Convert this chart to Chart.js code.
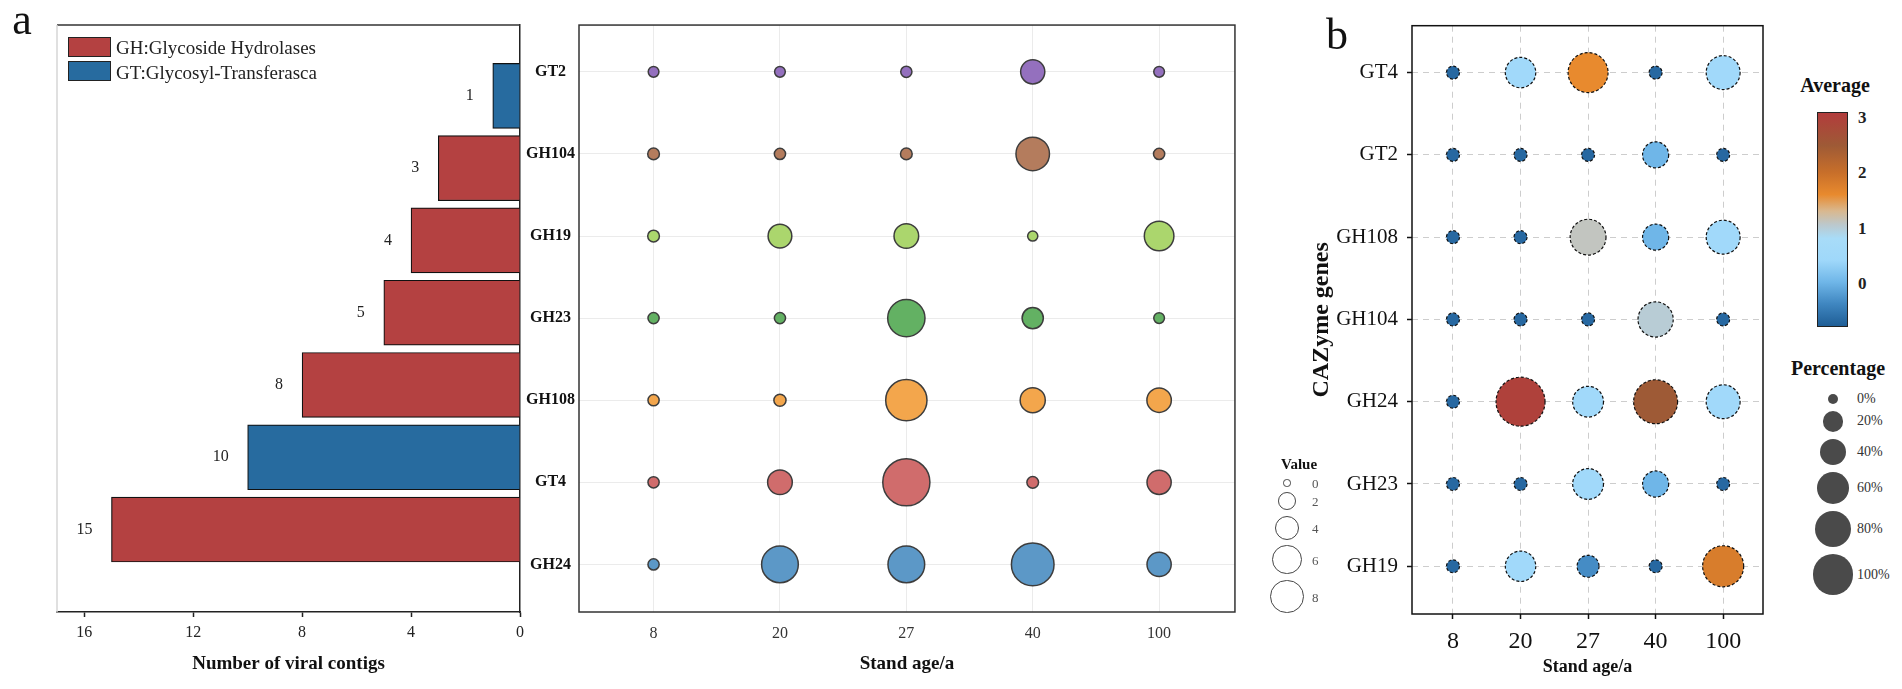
<!DOCTYPE html>
<html>
<head>
<meta charset="utf-8">
<script src="https://cdn.jsdelivr.net/npm/chart.js@4.4.0/dist/chart.umd.min.js"></script>
<style>
  body { margin: 0; width: 1902px; height: 689px; background: #fff; position: relative; overflow: hidden; font-family: 'Liberation Serif', serif; }
  canvas { position: absolute; top: 0; }
  .t { position: absolute; white-space: nowrap; line-height: 1; color: #222; }
  .c { position: absolute; border-radius: 50%; box-sizing: border-box; }
</style>
</head>
<body>
<canvas id="bar" width="540" height="689" style="left:0"></canvas>
<canvas id="bubA" width="760" height="689" style="left:500px"></canvas>
<canvas id="bubB" width="500" height="689" style="left:1290px"></canvas>
<div id="deco"></div>
<script>
// ---- panel a: bar chart ----
const barGenes = ['GT2', 'GH104', 'GH19', 'GH23', 'GH108', 'GT4', 'GH24'];
const barCounts = [1, 3, 4, 5, 8, 10, 15];
const barFamily = ['GT', 'GH', 'GH', 'GH', 'GH', 'GT', 'GH'];
const barTicks = [0, 4, 8, 12, 16];

// ---- panel a: bubble values (columns = stand age) ----
const ages = ['8', '20', '27', '40', '100'];
const valGT2   = [0.1, 0.1, 0.15, 2.2, 0.1];
const valGH104 = [0.2, 0.15, 0.2, 4.6, 0.15];
const valGH19  = [0.2, 2.1, 2.3, 0.05, 3.5];
const valGH23  = [0.15, 0.15, 5.8, 1.6, 0.1];
const valGH108 = [0.15, 0.25, 7.2, 2.4, 2.25];
const valGT4   = [0.15, 2.3, 9.5, 0.2, 2.2];
const valGH24  = [0.15, 5.6, 5.6, 7.7, 2.2];
const valueLegend = [0, 2, 4, 6, 8];

// ---- panel b: percentage (size) and average (colour) ----
const genesB = ['GT4', 'GT2', 'GH108', 'GH104', 'GH24', 'GH23', 'GH19'];
const pctGT4   = [0, 34, 64, 0, 44];
const pctGT2   = [0, 0, 0, 23, 0];
const pctGH108 = [0, 0, 50, 23, 44];
const pctGH104 = [0, 0, 0, 48, 0];
const pctGH24  = [0, 100, 35, 79, 44];
const pctGH23  = [0, 0, 35, 23, 0];
const pctGH19  = [0, 34, 14, 0, 68];
const avgGT4   = [-0.7, 0.5, 1.6, -0.7, 0.5];
const avgGT2   = [-0.7, -0.7, -0.7, 0, -0.7];
const avgGH108 = [-0.7, -0.7, 1.1, 0, 0.5];
const avgGH104 = [-0.7, -0.7, -0.7, 1.0, -0.7];
const avgGH24  = [-0.7, 3.0, 0.5, 2.5, 0.5];
const avgGH23  = [-0.7, -0.7, 0.5, 0, -0.7];
const avgGH19  = [-0.7, 0.5, -0.35, -0.7, 1.8];
const pctLegend = [0, 20, 40, 60, 80, 100];
const avgTicks = [3, 2, 1, 0];

const FONT = 'Liberation Serif';
Chart.defaults.font.family = FONT;
Chart.defaults.color = '#222';
Chart.defaults.animation = false;
Chart.defaults.events = [];
Chart.defaults.plugins.legend.display = false;
Chart.defaults.plugins.tooltip.enabled = false;

const famColor = { GH: '#b44141', GT: '#276b9f' };
const famLabel = { GH: 'GH:Glycoside Hydrolases', GT: 'GT:Glycosyl-Transferasca' };
const rowColorsA = ['#9470be', '#b47c5d', '#abd66d', '#63b163', '#f3a64c', '#d06c6c', '#5c98c7'];

const sizeA = v => Math.sqrt(23 + 56 * v);
const sizeB = p => Math.sqrt(42 + 5.58 * p);

// colour scale for "Average"
const avgStops = [-0.8, -0.4, 0, 0.4, 0.8, 1.05, 1.3, 1.6, 2.0, 2.5, 3.09];
const avgColors = ['#1f5e96', '#3f86c0', '#6fb6e8', '#9fd8fa', '#a8dcf8', '#bcc8cc', '#d9b88f', '#e88a2e', '#c86f2a', '#9e5a36', '#b23c3c'];
function hexRgb(h) { return [1, 3, 5].map(i => parseInt(h.substr(i, 2), 16)); }
function avgColor(a) {
    if (a <= avgStops[0]) return avgColors[0];
    for (let i = 1; i < avgStops.length; i++) {
        if (a <= avgStops[i]) {
            const t = (a - avgStops[i - 1]) / (avgStops[i] - avgStops[i - 1]);
            const c0 = hexRgb(avgColors[i - 1]), c1 = hexRgb(avgColors[i]);
            return `rgb(${c0.map((c, k) => Math.round(c + t * (c1[k] - c)))})`;
        }
    }
    return avgColors[avgColors.length - 1];
}

const frame = color => ({
    id: 'frame',
    afterDraw(chart) {
        const { ctx, chartArea: a } = chart;
        ctx.save();
        ctx.strokeStyle = color;
        ctx.lineWidth = 1.5;
        ctx.strokeRect(a.left, a.top, a.right - a.left, a.bottom - a.top);
        ctx.restore();
    }
});

// --- bar chart ---
const barExtras = {
    id: 'barExtras',
    afterDatasetsDraw(chart) {
        const { ctx, chartArea: a } = chart;
        ctx.save();
        ctx.lineWidth = 1.5;
        ctx.strokeStyle = '#333';
        ctx.beginPath(); ctx.moveTo(a.left, a.top); ctx.lineTo(a.right, a.top); ctx.stroke();
        ctx.strokeStyle = '#d6d6d6';
        ctx.beginPath(); ctx.moveTo(a.left, a.top); ctx.lineTo(a.left, a.bottom); ctx.stroke();
        ctx.font = `16px ${FONT}`;
        ctx.fillStyle = '#222';
        ctx.textAlign = 'right';
        ctx.textBaseline = 'middle';
        chart.getDatasetMeta(0).data.forEach((bar, i) => ctx.fillText(String(barCounts[i]), bar.x - 19, bar.y));
        ctx.restore();
    }
};

new Chart(document.getElementById('bar'), {
    type: 'bar',
    data: {
        datasets: [{
            data: barCounts.map((v, i) => ({ x: v, y: i })),
            backgroundColor: barFamily.map(f => famColor[f]),
            borderColor: '#111',
            borderWidth: 1.2,
            barThickness: 65
        }]
    },
    options: {
        indexAxis: 'y',
        responsive: false,
        layout: { padding: { left: 57, right: 20, top: 25, bottom: 0 } },
        scales: {
            x: {
                type: 'linear', reverse: true, min: 0, max: 17, position: 'bottom',
                afterFit: s => { s.height = 77; },
                afterBuildTicks: s => { s.ticks = barTicks.map(v => ({ value: v })); },
                ticks: { padding: 6, font: { size: 16 }, color: '#222' },
                grid: { drawOnChartArea: false, drawTicks: true, tickLength: 5, tickColor: '#222', tickWidth: 1.5 },
                border: { color: '#222', width: 1.5 },
                title: { display: true, text: 'Number of viral contigs', color: '#111', font: { size: 19, weight: 'bold' }, padding: { top: 0, bottom: 14 } }
            },
            y: {
                type: 'linear', reverse: true, min: -0.53, max: 6.69, position: 'right',
                afterFit: s => { s.width = 0; },
                ticks: { display: false },
                grid: { display: false },
                border: { color: '#222', width: 1.5 }
            }
        }
    },
    plugins: [barExtras]
});

// --- bubble chart a ---
const valuesA = [valGT2, valGH104, valGH19, valGH23, valGH108, valGT4, valGH24];
new Chart(document.getElementById('bubA'), {
    type: 'bubble',
    data: {
        datasets: barGenes.map((g, r) => ({
            label: g,
            data: valuesA[r].map((v, c) => ({ x: c, y: r, v })),
            backgroundColor: rowColorsA[r],
            borderColor: '#3d3d3d',
            borderWidth: 1.5,
            radius: ctx => (ctx.raw ? sizeA(ctx.raw.v) : 3)
        }))
    },
    options: {
        responsive: false,
        layout: { padding: { left: 0, right: 22, top: 24, bottom: 0 } },
        scales: {
            x: {
                type: 'linear', min: -0.59, max: 4.6,
                afterFit: s => { s.height = 77; },
                afterBuildTicks: s => { s.ticks = ages.map((_, i) => ({ value: i })); },
                ticks: { callback: v => ages[v], autoSkip: false, padding: 12, font: { size: 16 }, color: '#333' },
                grid: { color: '#ebebeb', drawTicks: false },
                border: { display: false },
                title: { display: true, text: 'Stand age/a', color: '#111', font: { size: 19, weight: 'bold' }, padding: { top: 0, bottom: 14 } }
            },
            y: {
                type: 'linear', reverse: true, min: -0.57, max: 6.58,
                afterFit: s => { s.width = 79; },
                afterBuildTicks: s => { s.ticks = barGenes.map((_, i) => ({ value: i })); },
                ticks: { callback: v => barGenes[v], autoSkip: false, crossAlign: 'center', padding: 4, font: { size: 16, weight: 'bold' }, color: '#111' },
                grid: { color: '#ebebeb', drawTicks: false },
                border: { display: false }
            }
        }
    },
    plugins: [frame('#333')]
});

// --- bubble chart b ---
const pctB = [pctGT4, pctGT2, pctGH108, pctGH104, pctGH24, pctGH23, pctGH19];
const avgB = [avgGT4, avgGT2, avgGH108, avgGH104, avgGH24, avgGH23, avgGH19];
const dashedBorder = {
    id: 'dashedBorder',
    beforeDatasetsDraw(chart) { chart.ctx.setLineDash([3, 2]); },
    afterDatasetsDraw(chart) { chart.ctx.setLineDash([]); }
};
new Chart(document.getElementById('bubB'), {
    type: 'bubble',
    data: {
        datasets: [{
            data: pctB.flatMap((row, r) => row.map((p, c) => ({ x: c, y: r, p, a: avgB[r][c] }))),
            backgroundColor: ctx => (ctx.raw ? avgColor(ctx.raw.a) : '#888'),
            borderColor: '#111',
            borderWidth: 1.2,
            radius: ctx => (ctx.raw ? sizeB(ctx.raw.p) : 3)
        }]
    },
    options: {
        responsive: false,
        layout: { padding: { left: 0, right: 27, top: 25, bottom: 0 } },
        scales: {
            x: {
                type: 'linear', min: -0.607, max: 4.59,
                afterFit: s => { s.height = 75; },
                afterBuildTicks: s => { s.ticks = ages.map((_, i) => ({ value: i })); },
                ticks: { callback: v => ages[v], autoSkip: false, padding: 8, font: { size: 24 }, color: '#111' },
                grid: { color: '#cdcdcd', drawTicks: true, tickLength: 5, tickColor: '#111', tickWidth: 1.5 },
                border: { display: false, dash: [6, 5] },
                title: { display: true, text: 'Stand age/a', color: '#111', font: { size: 18, weight: 'bold' }, padding: { top: 0, bottom: 11 } }
            },
            y: {
                type: 'linear', reverse: true, min: -0.57, max: 6.58,
                afterFit: s => { s.width = 122; },
                afterBuildTicks: s => { s.ticks = genesB.map((_, i) => ({ value: i })); },
                ticks: { callback: v => genesB[v], autoSkip: false, padding: 9, font: { size: 21 }, color: '#111' },
                grid: { color: '#cdcdcd', drawTicks: true, tickLength: 5, tickColor: '#111', tickWidth: 1.5 },
                border: { display: false, dash: [6, 5] },
                title: { display: true, text: 'CAZyme genes', color: '#111', font: { size: 24, weight: 'bold' }, padding: { top: 17, bottom: 0 } }
            }
        }
    },
    plugins: [dashedBorder, frame('#111')]
});

// ---- legends and panel letters ----
const deco = document.getElementById('deco');
function text(str, x, y, size, opt = {}) {
    const d = document.createElement('div');
    d.className = 't';
    d.textContent = str;
    d.style.left = x + 'px';
    d.style.top = y + 'px';
    d.style.fontSize = size + 'px';
    if (opt.bold) d.style.fontWeight = 'bold';
    if (opt.color) d.style.color = opt.color;
    d.style.transform = opt.left ? 'translate(0,-50%)' : 'translate(-50%,-50%)';
    deco.appendChild(d);
}
function circle(x, y, r, style) {
    const d = document.createElement('div');
    d.className = 'c';
    Object.assign(d.style, { left: (x - r) + 'px', top: (y - r) + 'px', width: 2 * r + 'px', height: 2 * r + 'px' }, style);
    deco.appendChild(d);
}

text('a', 22, 20, 44, { color: '#111' });
text('b', 1337, 35, 44, { color: '#111' });

// bar legend
['GH', 'GT'].forEach((f, i) => {
    const box = document.createElement('div');
    Object.assign(box.style, {
        position: 'absolute', left: '68px', top: (37 + i * 24) + 'px', width: '43px', height: '20px',
        background: famColor[f], border: '1px solid #222', boxSizing: 'border-box'
    });
    deco.appendChild(box);
    text(famLabel[f], 116, 47 + i * 25, 19, { left: true });
});

// size legend "Value"
text('Value', 1299, 464, 15, { bold: true, color: '#111' });
let vy = 483;
valueLegend.forEach((v, i) => {
    const r = 0.77 * sizeA(v);
    if (i > 0) vy += 0.77 * sizeA(valueLegend[i - 1]) + r + 5.5;
    circle(1287, vy, r, { border: '1.3px solid #444' });
    text(String(v), 1312, vy, 13, { left: true, color: '#555' });
});

// colour bar "Average"
const vMin = -0.8, vMax = 3.09;
text('Average', 1835, 85, 20, { bold: true, color: '#111' });
const bar = document.createElement('div');
const grad = avgStops.map((s, i) => `${avgColors[i]} ${((s - vMin) / (vMax - vMin) * 100).toFixed(1)}%`).join(',');
Object.assign(bar.style, {
    position: 'absolute', left: '1817px', top: '112px', width: '31px', height: '215px', boxSizing: 'border-box',
    border: '1.2px solid #222', background: `linear-gradient(to top, ${grad})`
});
deco.appendChild(bar);
avgTicks.forEach(v => text(String(v), 1858, 112 + (vMax - v) / (vMax - vMin) * 215, 17, { left: true, bold: true, color: '#222' }));

// size legend "Percentage"
text('Percentage', 1838, 368, 20, { bold: true, color: '#111' });
let py = 399;
pctLegend.forEach((p, i) => {
    const r = 0.82 * sizeB(p);
    if (i > 0) py += 0.82 * sizeB(pctLegend[i - 1]) + r + 7;
    circle(1833, py, r, { background: '#4a4a4a' });
    text(p + '%', 1857, py, 14, { left: true, color: '#333' });
});
</script>
</body>
</html>
